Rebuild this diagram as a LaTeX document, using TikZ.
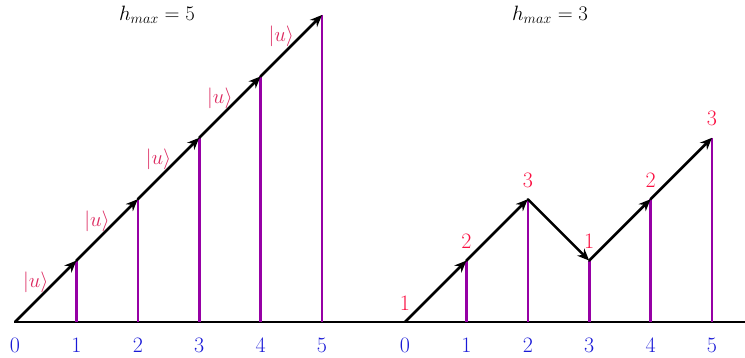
\documentclass[tikz,border=0pt]{standalone}
\usetikzlibrary{arrows.meta,calc}
\definecolor{tickblue}{RGB}{25,25,215}
\definecolor{hred}{RGB}{250,15,65}
\definecolor{ured}{RGB}{220,40,95}
\definecolor{barpurple}{RGB}{150,0,165}
\begin{document}
\begin{tikzpicture}[x=1pt,y=-1pt,
  font=\fontsize{22}{26}\selectfont,
  axisline/.style={line width=2.6pt,black},
  barline/.style={line width=2.6pt,barpurple},
  steparrow/.style={line width=2.6pt,black,line cap=round,-{Stealth[length=12pt,width=10pt]}},
  ticklab/.style={text=tickblue,inner sep=0pt},
  hlab/.style={text=hred,inner sep=0pt},
  ulab/.style={text=ured,inner sep=0pt},
  titlelab/.style={inner sep=0pt}]
\useasboundingbox (0,0) rectangle (745,358);
% coordinates
\coordinate (L0) at (15,322);
\foreach \i in {1,...,5}{\coordinate (L\i) at ({15+61.4*\i},{322-61.4*\i});}
\coordinate (R0) at (405,322);
\coordinate (R1) at ({405+61.4*1},{322-61.4*1});
\coordinate (R2) at ({405+61.4*2},{322-61.4*2});
\coordinate (R3) at ({405+61.4*3},{322-61.4*1});
\coordinate (R4) at ({405+61.4*4},{322-61.4*2});
\coordinate (R5) at ({405+61.4*5},{322-61.4*3});
\coordinate (AE) at (745,322);
% titles
\node[titlelab] (t1) at (157,15) {$h_{max}=5$};
\node[titlelab] (t2) at (550,15) {$h_{max}=3$};
% axis
\draw[axisline] (L0) -- (AE);
% bars
\foreach \i in {1,...,5}{
  \draw[barline] (L\i) -- (L\i |- L0);
  \draw[barline] (R\i) -- (R\i |- R0);
}
% left arrows
\foreach \i [count=\j from 0] in {1,...,5}{
  \draw[steparrow] (L\j) -- (L\i) node[ulab,pos=0.5,shift={(-10,-9)}] (u\i) {$|u\rangle$};
}
% right arrows
\foreach \i [count=\j from 0] in {1,...,5}{
  \draw[steparrow] (R\j) -- (R\i);
}
% right height labels
\node[hlab] (h0) at ($(R0)+(0,-19)$) {1};
\node[hlab] (h1) at ($(R1)+(0,-19)$) {2};
\node[hlab] (h2) at ($(R2)+(0,-19)$) {3};
\node[hlab] (h3) at ($(R3)+(0,-19)$) {1};
\node[hlab] (h4) at ($(R4)+(0,-19)$) {2};
\node[hlab] (h5) at ($(R5)+(0,-19)$) {3};
% tick labels
\foreach \i in {0,...,5}{
  \node[ticklab] (lt\i) at ($(L\i |- L0)+(0,23)$) {\i};
  \node[ticklab] (rt\i) at ($(R0)+({61.4*\i},23)$) {\i};
}
\end{tikzpicture}
\end{document}
